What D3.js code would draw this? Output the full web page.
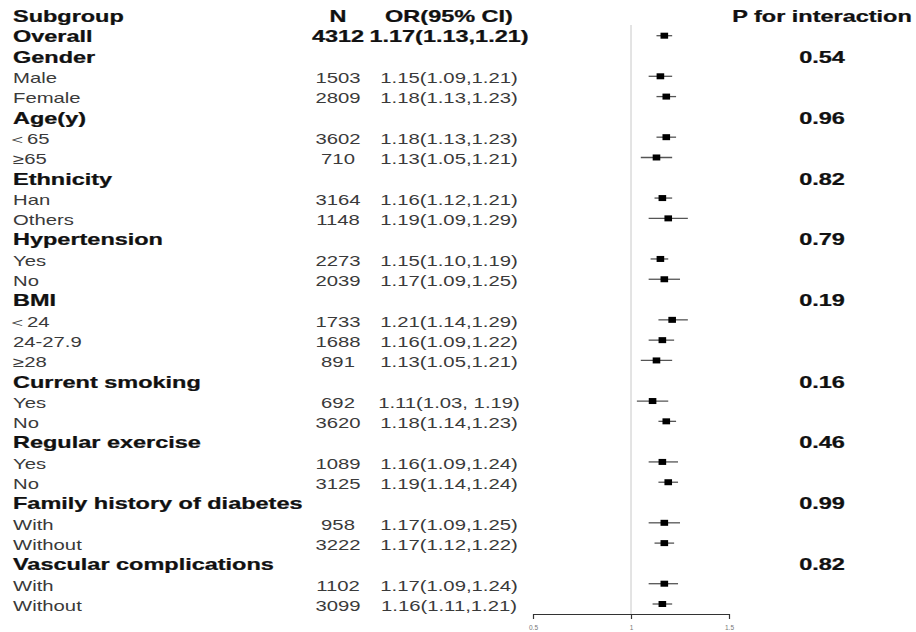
<!DOCTYPE html>
<html>
<head>
<meta charset="utf-8">
<script src="https://cdn.jsdelivr.net/npm/d3@7"></script>
<style>
    body { margin: 0; background: #fff; }
    text { font-family: "Liberation Sans", Arial, sans-serif; }
</style>
</head>
<body>
<div id="forest-plot"></div>
<script>
// rows of the table, top to bottom (row 0 is the header)
var gLabels = ["Subgroup", "Overall", "Gender", "Male", "Female", "Age(y)", "\uFF1C65", "\u226565",
    "Ethnicity", "Han", "Others", "Hypertension", "Yes", "No", "BMI", "\uFF1C24", "24-27.9", "\u226528",
    "Current smoking", "Yes", "No", "Regular exercise", "Yes", "No",
    "Family history of diabetes", "With", "Without", "Vascular complications", "With", "Without"];
var gBold = [1, 1, 1, 0, 0, 1, 0, 0, 1, 0, 0, 1, 0, 0, 1, 0, 0, 0, 1, 0, 0, 1, 0, 0, 1, 0, 0, 1, 0, 0];
var gN = ["N", "4312", "", "1503", "2809", "", "3602", "710", "", "3164", "1148", "", "2273", "2039",
    "", "1733", "1688", "891", "", "692", "3620", "", "1089", "3125", "", "958", "3222", "", "1102", "3099"];
var gOrText = ["OR(95% CI)", "1.17(1.13,1.21)", "", "1.15(1.09,1.21)", "1.18(1.13,1.23)", "",
    "1.18(1.13,1.23)", "1.13(1.05,1.21)", "", "1.16(1.12,1.21)", "1.19(1.09,1.29)", "",
    "1.15(1.10,1.19)", "1.17(1.09,1.25)", "", "1.21(1.14,1.29)", "1.16(1.09,1.22)", "1.13(1.05,1.21)",
    "", "1.11(1.03, 1.19)", "1.18(1.14,1.23)", "", "1.16(1.09,1.24)", "1.19(1.14,1.24)", "",
    "1.17(1.09,1.25)", "1.17(1.12,1.22)", "", "1.17(1.09,1.24)", "1.16(1.11,1.21)"];
var gPText = ["P for interaction", "", "0.54", "", "", "0.96", "", "", "0.82", "", "", "0.79", "", "",
    "0.19", "", "", "", "0.16", "", "", "0.46", "", "", "0.99", "", "", "0.82", "", ""];
// point estimates and CI bounds (null where the row has no mark)
var gOr = [null, 1.17, null, 1.15, 1.18, null, 1.18, 1.13, null, 1.16, 1.19, null, 1.15, 1.17, null,
    1.21, 1.16, 1.13, null, 1.11, 1.18, null, 1.16, 1.19, null, 1.17, 1.17, null, 1.17, 1.16];
var gLow = [null, 1.13, null, 1.09, 1.13, null, 1.13, 1.05, null, 1.12, 1.09, null, 1.10, 1.09, null,
    1.14, 1.09, 1.05, null, 1.03, 1.14, null, 1.09, 1.14, null, 1.09, 1.12, null, 1.09, 1.11];
var gHigh = [null, 1.21, null, 1.21, 1.23, null, 1.23, 1.21, null, 1.21, 1.29, null, 1.19, 1.25, null,
    1.29, 1.22, 1.21, null, 1.19, 1.23, null, 1.24, 1.24, null, 1.25, 1.22, null, 1.24, 1.21];
var gTicks = [0.5, 1, 1.5];

(function () {
    "use strict";

    var vWidth = 916, vHeight = 632;
    var vStretch = 1.45; // the text in the figure is drawn wide

    var svg = d3.select("#forest-plot")
        .append("svg")
        .attr("width", vWidth)
        .attr("height", vHeight);

    var vRows = d3.range(gLabels.length);

    // row positions (centre of the marks)
    var vY = d3.scalePoint()
        .domain(vRows)
        .range([15.4, 604]);

    // odds ratio scale
    var vX = d3.scaleLinear()
        .domain([0.5, 1.5])
        .range([533, 729]);

    function addColumn(aTexts, aX, aAnchor, aBoldFn) {
        svg.append("g")
            .selectAll("text")
            .data(vRows.filter(function (i) { return aTexts[i] !== ""; }))
            .enter()
            .append("text")
            .attr("transform", function (i) {
                return "translate(" + aX + "," + (vY(i) + 6.8) + ") scale(" + vStretch + ",1)";
            })
            .attr("text-anchor", aAnchor)
            // the full-width "<" sits inside a wide cell, pull it back to the margin
            .attr("dx", function (i) { return aTexts[i].charAt(0) === "\uFF1C" ? -4 : 0; })
            .attr("font-size", function (i) { return aBoldFn(i) ? 16.2 : 14; })
            .attr("font-weight", function (i) { return aBoldFn(i) ? "bold" : "normal"; })
            .attr("fill", function (i) { return aBoldFn(i) ? "#111" : "#3a3a3a"; })
            .attr("stroke", function (i) { return aBoldFn(i) ? "#111" : "none"; })
            .attr("stroke-width", 0.25)
            .text(function (i) { return aTexts[i]; });
    }

    function isBold(i) { return i < 2 || gBold[i] === 1; }

    addColumn(gLabels, 13, "start", isBold);
    addColumn(gN, 338, "middle", function (i) { return i < 2; });
    addColumn(gOrText, 449, "middle", function (i) { return i < 2; });
    addColumn(gPText, 822, "middle", function () { return true; });

    // reference line at OR = 1
    svg.append("line")
        .attr("x1", vX(1)).attr("x2", vX(1))
        .attr("y1", 25).attr("y2", 614)
        .attr("stroke", "#c8c8c8")
        .attr("stroke-width", 1);

    // x axis
    var vAxis = svg.append("g")
        .attr("transform", "translate(0,614)")
        .call(d3.axisBottom(vX).tickValues(gTicks).tickSize(5).tickSizeOuter(0)
            .tickFormat(d3.format("")));
    vAxis.select(".domain").attr("stroke", "#333").attr("stroke-width", 1.2);
    vAxis.selectAll(".tick line").attr("stroke", "#333").attr("stroke-width", 1.2);
    vAxis.selectAll(".tick text")
        .attr("y", 11)
        .attr("font-size", 6.5)
        .attr("fill", "#777")
        .attr("font-family", "Liberation Sans, Arial, sans-serif");

    var vMarked = vRows.filter(function (i) { return gOr[i] !== null; });

    // confidence intervals
    svg.append("g")
        .selectAll("line")
        .data(vMarked)
        .enter()
        .append("line")
        .attr("x1", function (i) { return vX(gLow[i]); })
        .attr("x2", function (i) { return vX(gHigh[i]); })
        .attr("y1", function (i) { return vY(i); })
        .attr("y2", function (i) { return vY(i); })
        .attr("stroke", "#555")
        .attr("stroke-width", 1.3);

    // boxes
    svg.append("g")
        .selectAll("rect")
        .data(vMarked)
        .enter()
        .append("rect")
        .attr("x", function (i) { return vX(gOr[i]) - 3.8; })
        .attr("y", function (i) { return vY(i) - 3; })
        .attr("width", 7.6)
        .attr("height", 6)
        .attr("fill", "#000");
})();
</script>
</body>
</html>
